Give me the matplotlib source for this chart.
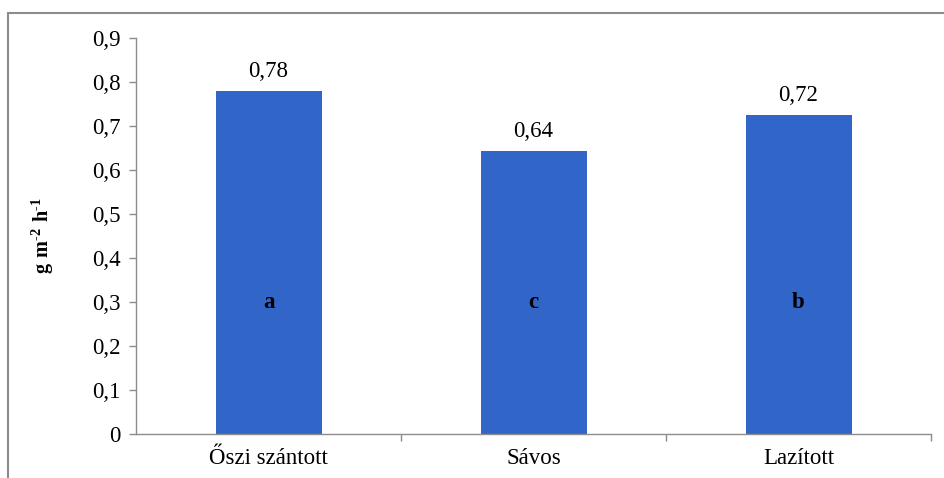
import matplotlib
matplotlib.use("Agg")
import matplotlib.pyplot as plt
from matplotlib.patches import Rectangle
from matplotlib.ticker import FixedLocator, NullFormatter

categories = ["Őszi szántott", "Sávos", "Lazított"]
values = [0.78, 0.643, 0.725]
value_labels = ["0,78", "0,64", "0,72"]
letters = ["a", "c", "b"]
yticks = [0, 0.1, 0.2, 0.3, 0.4, 0.5, 0.6, 0.7, 0.8, 0.9]
ytick_labels = ["0", "0,1", "0,2", "0,3", "0,4", "0,5", "0,6", "0,7", "0,8", "0,9"]

plt.rcParams['font.family'] = ['Liberation Serif', 'DejaVu Serif']
plt.rcParams['mathtext.fontset'] = 'custom'
plt.rcParams['mathtext.rm'] = 'Liberation Serif'
plt.rcParams['mathtext.bf'] = 'Liberation Serif:bold'

FS = 16.5
W, H = 944, 478
fig = plt.figure(figsize=(W / 100, H / 100), dpi=100)
ax = fig.add_axes([136 / W, 1 - 434 / H, (931 - 136) / W, (434 - 38) / H])

gray = "#8c8c8c"
x = list(range(len(categories)))
ax.bar(x, values, width=0.40, color="#3165C8", zorder=2)

for xi, v, lab, let in zip(x, values, value_labels, letters):
    ax.text(xi, v + 0.02, lab, ha="center", va="bottom", fontsize=FS)
    ax.text(xi, 0.30, let, ha="center", va="center", fontsize=FS, fontweight="bold")

ax.set_xlim(-0.5, 2.5)
ax.set_ylim(0, 0.9)
ax.set_yticks(yticks)
ax.set_yticklabels(ytick_labels, fontsize=FS)
ax.set_xticks(x)
ax.set_xticklabels(categories, fontsize=FS)
ax.tick_params(axis="x", length=0, pad=10)
ax.xaxis.set_minor_locator(FixedLocator([0.5, 1.5, 2.5]))
ax.xaxis.set_minor_formatter(NullFormatter())
ax.tick_params(axis="x", which="minor", length=5, color=gray, width=1)
ax.tick_params(axis="y", length=5, color=gray, width=1, pad=6)

for s in ["top", "right"]:
    ax.spines[s].set_visible(False)
for s in ["left", "bottom"]:
    ax.spines[s].set_color(gray)
    ax.spines[s].set_linewidth(1)

ax.set_ylabel("$\\mathbf{g\\ m^{\u20102}\\ h^{\u20101}}$", fontsize=14.5)
ax.yaxis.set_label_coords(-80 / (931 - 136), 0.5)

# outer chart frame
fig.patches.append(Rectangle((8 / W, -0.1), 1.2, 1 - 13 / H + 0.1, transform=fig.transFigure,
                             fill=False, edgecolor=gray, linewidth=1.5))

fig.savefig("out.png", dpi=100)
